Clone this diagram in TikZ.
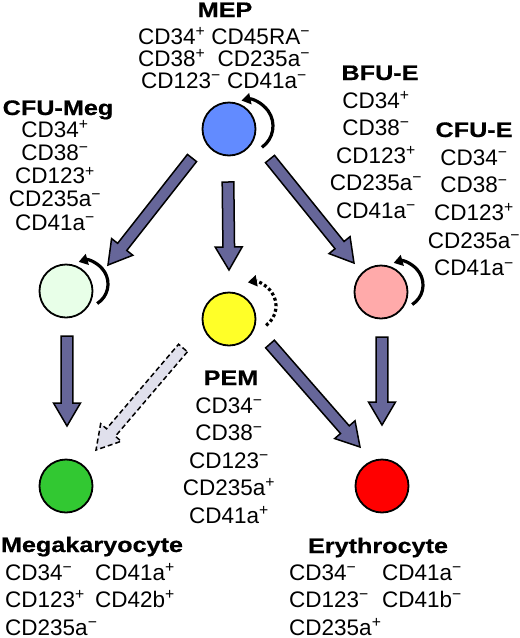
\documentclass[tikz,border=0pt]{standalone}
\usepackage{fontspec}
\setmainfont{Liberation Sans}
\newfontfamily\ttlfont{Liberation Sans}[FakeStretch=1.2,FakeBold=0.6]
\usetikzlibrary{calc,arrows.meta}
\definecolor{arrfill}{RGB}{102,102,153}
\definecolor{dashfill}{RGB}{224,224,236}
\definecolor{mepcol}{RGB}{98,139,255}
\definecolor{megcol}{RGB}{232,255,232}
\definecolor{pemcol}{RGB}{255,255,40}
\definecolor{cfuecol}{RGB}{255,170,170}
\definecolor{mkcol}{RGB}{50,200,50}
\definecolor{erycol}{RGB}{255,0,0}
\newcommand\sP{\textsuperscript{+}}
\newcommand\sM{\textsuperscript{−}}
% block arrow: #1 style, #2 start, #3 tip
\newcommand\blockarrow[3]{%
  \path ($(#3)!23pt!(#2)$) coordinate (bah);
  \draw[#1] ($(#2)!5.8pt!90:(#3)$) -- ($(bah)!5.8pt!90:(#3)$) --
    ($(bah)!13.5pt!90:(#3)$) -- (#3) -- ($(bah)!13.5pt!-90:(#3)$) --
    ($(bah)!5.8pt!-90:(#3)$) -- ($(#2)!5.8pt!-90:(#3)$) -- cycle;}
\begin{document}
\begin{tikzpicture}[x=1pt,y=-1pt,
  cell/.style={circle, draw=black, line width=1.8pt, minimum size=53pt, inner sep=0pt},
  ttl/.style={font=\ttlfont\bfseries\fontsize{21}{22}\selectfont, inner sep=0pt, anchor=base},
  mk/.style={font=\fontsize{22.5}{#1}\selectfont, inner sep=0pt, anchor=base, align=center},
  mkl/.style={mk=#1, anchor=base west, align=left},
  blockarr/.style={draw=black, line width=1.5pt, fill=arrfill, line join=miter},
  dasharr/.style={blockarr, fill=dashfill, dash pattern=on 5pt off 3pt},
  renew/.style={draw=black, line width=3.2pt, -{Triangle[length=9pt,width=11pt]}},
  renewdot/.style={renew, dash pattern=on 3pt off 2.6pt}]
\useasboundingbox (0,0) rectangle (520,638);
% cells
\node[cell, fill=mepcol]  (mep)  at (229,129) {};
\node[cell, fill=megcol]  (meg)  at (66,291)  {};
\node[cell, fill=pemcol]  (pem)  at (229,319) {};
\node[cell, fill=cfuecol] (cfue) at (381,292) {};
\node[cell, fill=mkcol]   (mega) at (66,486)  {};
\node[cell, fill=erycol]  (ery)  at (382,486) {};
% labels (anchor base = baseline of the last line)
\node[ttl] (tmep) at (225,17) {MEP};
\node[mk=22.2] (lmep) at (224,88.4) {CD34\sP{} CD45RA\sM\\CD38\sP{}\ \ CD235a\sM\\CD123\sM{} CD41a\sM};
\node[ttl] (tmeg) at (58,115) {CFU-Meg};
\node[mk=23.3] (lmeg) at (55,230.2) {CD34\sP\\CD38\sM\\CD123\sP\\CD235a\sM\\CD41a\sM};
\node[ttl] (tbfu) at (380,80) {BFU-E};
\node[mk=27.5] (lbfu) at (376,218) {CD34\sP\\CD38\sM\\CD123\sP\\CD235a\sM\\CD41a\sM};
\node[ttl] (tcfue) at (474,137) {CFU-E};
\node[mk=27.7] (lcfue) at (474,275.8) {CD34\sM\\CD38\sM\\CD123\sP\\CD235a\sM\\CD41a\sM};
\node[ttl] (tpem) at (231,385) {PEM};
\node[mk=27.5] (lpem) at (229,523) {CD34\sM\\CD38\sM\\CD123\sM\\CD235a\sP\\CD41a\sP};
\node[ttl] (tmega) at (92,552) {Megakaryocyte};
\node[mkl=27.5] (lmega1) at (5,635) {CD34\sM\\CD123\sP\\CD235a\sM};
\node[mk=27.5] (lmega2) at (135,607.5) {CD41a\sP\\CD42b\sP};
\node[ttl] (tery) at (378,553) {Erythrocyte};
\node[mkl=27.5] (lery1) at (289,635) {CD34\sM\\CD123\sM\\CD235a\sP};
\node[mkl=27.5] (lery2) at (382,607.5) {CD41a\sM\\CD41b\sM};
% arrow end points
\coordinate (a1s) at ($(mep)+(-37,29)$);  \coordinate (a1e) at ($(meg)+(42,-26)$);
\coordinate (a2s) at ($(mep)+(-1,53)$);   \coordinate (a2e) at ($(pem)+(0,-49)$);
\coordinate (a3s) at ($(mep)+(41,30)$);   \coordinate (a3e) at ($(cfue)+(-27,-29)$);
\coordinate (a4s) at ($(meg)+(1,45)$);    \coordinate (a4e) at ($(mega)+(1,-60)$);
\coordinate (a5s) at ($(cfue)+(1,45)$);   \coordinate (a5e) at ($(ery)+(0,-61)$);
\coordinate (a6s) at ($(pem)+(41,25)$);   \coordinate (a6e) at ($(ery)+(-22,-39)$);
\coordinate (a7s) at ($(pem)+(-46,29)$);  \coordinate (a7e) at ($(mega)+(30,-36)$);
\blockarrow{blockarr}{a1s}{a1e}
\blockarrow{blockarr}{a2s}{a2e}
\blockarrow{blockarr}{a3s}{a3e}
\blockarrow{blockarr}{a4s}{a4e}
\blockarrow{blockarr}{a5s}{a5e}
\blockarrow{blockarr}{a6s}{a6e}
\blockarrow{dasharr}{a7s}{a7e}
% self-renewal arcs
\draw[renew] ([shift={(32.9,18.3)}]mep.center) arc[start angle=55, end angle=-102, radius=26];
\draw[renew] ([shift={(31.2,12.5)}]meg.center) arc[start angle=58, end angle=-106, radius=23];
\draw[renew] ([shift={(31.2,12.5)}]cfue.center) arc[start angle=58, end angle=-106, radius=23];
\draw[renewdot] ([shift={(37.1,6.4)}]pem.center) arc[start angle=54, end angle=-100, radius=24];
\end{tikzpicture}
\end{document}
